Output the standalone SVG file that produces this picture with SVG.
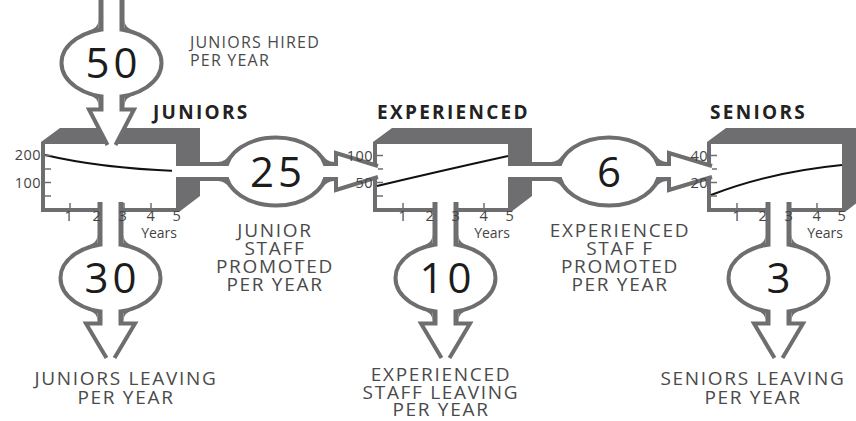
<svg xmlns="http://www.w3.org/2000/svg" width="856" height="421" viewBox="0 0 856 421">
<style>
.g{fill:#6e6e71}
.w{fill:#fff}
.face{fill:#fff}
.curve{fill:none;stroke:#111;stroke-width:2}
.tick{stroke:#6e6e71;stroke-width:1.5}
.ax{font-family:"Open Sans","Liberation Sans",sans-serif;font-size:14.5px;fill:#444;letter-spacing:0.5px}
.yr{font-family:"Open Sans","Liberation Sans",sans-serif;font-size:14px;fill:#444;text-anchor:end}
.title{font-family:"Open Sans","Liberation Sans",sans-serif;font-size:19px;font-weight:bold;fill:#222;letter-spacing:2.3px}
.cap{font-family:"Open Sans","Liberation Sans",sans-serif;font-size:19px;fill:#4a4a4a;letter-spacing:1.7px}
.cap1{font-family:"Open Sans","Liberation Sans",sans-serif;font-size:16px;fill:#4a4a4a;letter-spacing:1.2px}
.num{font-family:"Open Sans","Liberation Sans",sans-serif;font-size:42px;fill:#1c1c1c;text-anchor:middle;letter-spacing:4px}
.ring{fill:#fff;stroke:#6e6e71;stroke-width:4}
.arr{fill:#fff;stroke:#6e6e71;stroke-width:4;stroke-linejoin:miter}
</style>
<defs>
  <g id="fv">
    <path class="g" d="M-13,-43 Q-13,-34 -25,-31.6 L-13,-31.5 Z"/>
    <path class="g" d="M13,-43 Q13,-34 25,-31.6 L13,-31.5 Z"/>
  </g>
  <g id="fh">
    <path class="g" d="M-58,-9.5 Q-51,-9.5 -47,-16 L-48,-9.5 Z"/>
    <path class="g" d="M-58,9.5 Q-51,9.5 -47,16 L-48,9.5 Z"/>
  </g>
</defs>

<!-- stocks -->
<g id="stock-juniors">
  <polygon class="g" points="41,142 60,128 200,128 200,196 179,212 41,212"/>
  <rect class="face" x="45" y="144" width="131" height="64"/>
  <path class="curve" d="M45,155 Q100,168 176,171"/>
  <g class="tick">
    <line x1="45" y1="155.5" x2="51" y2="155.5"/><line x1="45" y1="169" x2="51" y2="169"/>
    <line x1="45" y1="182.5" x2="51" y2="182.5"/><line x1="45" y1="196" x2="51" y2="196"/>
    <line x1="70" y1="208" x2="70" y2="203"/><line x1="124" y1="208" x2="124" y2="203"/><line x1="151" y1="208" x2="151" y2="203"/>
  </g>
  <text class="title" x="153" y="119">JUNIORS</text>
</g>
<g id="stock-experienced">
  <polygon class="g" points="373,142 392,128 532,128 532,196 511,212 373,212"/>
  <rect class="face" x="377" y="144" width="131" height="64"/>
  <path class="curve" d="M377,186 Q440,171 508,156"/>
  <g class="tick">
    <line x1="377" y1="155.5" x2="383" y2="155.5"/><line x1="377" y1="169" x2="383" y2="169"/>
    <line x1="377" y1="182.5" x2="383" y2="182.5"/><line x1="377" y1="196" x2="383" y2="196"/>
    <line x1="403" y1="208" x2="403" y2="203"/><line x1="457" y1="208" x2="457" y2="203"/><line x1="484" y1="208" x2="484" y2="203"/>
  </g>
  <text class="title" x="377" y="119">EXPERIENCED</text>
</g>
<g id="stock-seniors">
  <polygon class="g" points="707,142 726,128 866,128 866,196 845,212 707,212"/>
  <rect class="face" x="711" y="144" width="131" height="64"/>
  <path class="curve" d="M711,195 Q770,172 842,165"/>
  <g class="tick">
    <line x1="711" y1="155.5" x2="717" y2="155.5"/><line x1="711" y1="169" x2="717" y2="169"/>
    <line x1="711" y1="182.5" x2="717" y2="182.5"/><line x1="711" y1="196" x2="717" y2="196"/>
    <line x1="737" y1="208" x2="737" y2="203"/><line x1="790" y1="208" x2="790" y2="203"/><line x1="817" y1="208" x2="817" y2="203"/>
  </g>
  <text class="title" x="710" y="119">SENIORS</text>
</g>

<!-- valves -->
<g id="valve-hired">
  <ellipse class="ring" cx="111.5" cy="63" rx="50" ry="34"/>
  <text class="num" x="113.5" y="78">50</text>
  <text class="cap1" x="190" y="48">JUNIORS HIRED</text>
  <text class="cap1" x="190" y="66">PER YEAR</text>
</g>
<g id="valve-junior-promoted">
  <ellipse class="ring" cx="276" cy="171.5" rx="50" ry="34"/>
  <text class="num" x="278" y="186.5">25</text>
  <g class="cap" text-anchor="middle">
    <text x="275" y="237">JUNIOR</text>
    <text x="275" y="255">STAFF</text>
    <text x="275" y="273">PROMOTED</text>
    <text x="275" y="291">PER YEAR</text>
  </g>
</g>
<g id="valve-experienced-promoted">
  <ellipse class="ring" cx="609" cy="171.5" rx="50" ry="34"/>
  <text class="num" x="611" y="186.5">6</text>
  <g class="cap" text-anchor="middle">
    <text x="620" y="237">EXPERIENCED</text>
    <text x="620" y="255">STAF F</text>
    <text x="620" y="273">PROMOTED</text>
    <text x="620" y="291">PER YEAR</text>
  </g>
</g>
<g id="valve-juniors-leaving">
  <ellipse class="ring" cx="110.5" cy="278" rx="50" ry="34"/>
  <text class="num" x="112.5" y="293">30</text>
  <g class="cap" text-anchor="middle">
    <text x="126" y="385">JUNIORS LEAVING</text>
    <text x="126" y="404">PER YEAR</text>
  </g>
</g>
<g id="valve-experienced-leaving">
  <ellipse class="ring" cx="445.5" cy="278" rx="50" ry="34"/>
  <text class="num" x="447.5" y="293">10</text>
  <g class="cap" text-anchor="middle">
    <text x="441" y="381">EXPERIENCED</text>
    <text x="441" y="398.5">STAFF LEAVING</text>
    <text x="441" y="416">PER YEAR</text>
  </g>
</g>
<g id="valve-seniors-leaving">
  <ellipse class="ring" cx="778.5" cy="278" rx="50" ry="34"/>
  <text class="num" x="780.5" y="293">3</text>
  <g class="cap" text-anchor="middle">
    <text x="753" y="385">SENIORS LEAVING</text>
    <text x="753" y="404">PER YEAR</text>
  </g>
</g>

<!-- connectors (pipes and arrowheads) -->
<g id="connectors">
  <!-- hired -> juniors -->
  <rect class="g" x="98.5" y="-2" width="26" height="33"/>
  <rect class="g" x="98.5" y="95" width="26" height="15"/>
  <use href="#fv" transform="translate(111.5,63)"/>
  <use href="#fv" transform="translate(111.5,63) scale(1,-1)"/>
  <path class="arr" d="M107.5,145 L89,109.5 L134,109.5 L115.5,145"/>
  <rect class="w" x="103.5" y="-2" width="16" height="38"/>
  <rect class="w" x="103.5" y="90" width="16" height="22"/>

  <!-- juniors -> promoted -> experienced -->
  <rect class="g" x="195" y="162" width="32" height="19"/>
  <rect class="g" x="325" y="162" width="12" height="19"/>
  <use href="#fh" transform="translate(276,171.5)"/>
  <use href="#fh" transform="translate(276,171.5) scale(-1,1)"/>
  <path class="arr" d="M378,166 L336,153 L336,190 L378,177" stroke-width="3.5"/>
  <rect class="w" x="172" y="166" width="60" height="11"/>
  <rect class="w" x="320" y="166" width="20" height="11"/>

  <!-- experienced -> promoted -> seniors -->
  <rect class="g" x="527" y="162" width="34" height="19"/>
  <rect class="g" x="658" y="162" width="12" height="19"/>
  <use href="#fh" transform="translate(609,171.5)"/>
  <use href="#fh" transform="translate(609,171.5) scale(-1,1)"/>
  <path class="arr" d="M712,166 L669,153 L669,190 L712,177" stroke-width="3.5"/>
  <rect class="w" x="504" y="166" width="62" height="11"/>
  <rect class="w" x="653" y="166" width="20" height="11"/>

  <!-- juniors leaving -->
  <rect class="g" x="97.5" y="202" width="26" height="44"/>
  <rect class="g" x="97.5" y="310" width="26" height="15"/>
  <use href="#fv" transform="translate(110.5,278)"/>
  <use href="#fv" transform="translate(110.5,278) scale(1,-1)"/>
  <path class="arr" d="M106.5,358 L86,323.5 L135,323.5 L114.5,358"/>
  <rect class="w" x="102.5" y="196" width="16" height="56"/>
  <rect class="w" x="102.5" y="305" width="16" height="22"/>

  <!-- experienced leaving -->
  <rect class="g" x="432.5" y="202" width="26" height="44"/>
  <rect class="g" x="432.5" y="310" width="26" height="15"/>
  <use href="#fv" transform="translate(445.5,278)"/>
  <use href="#fv" transform="translate(445.5,278) scale(1,-1)"/>
  <path class="arr" d="M441.5,358 L421,323.5 L470,323.5 L449.5,358"/>
  <rect class="w" x="437.5" y="196" width="16" height="56"/>
  <rect class="w" x="437.5" y="305" width="16" height="22"/>

  <!-- seniors leaving -->
  <rect class="g" x="765.5" y="202" width="26" height="44"/>
  <rect class="g" x="765.5" y="310" width="26" height="15"/>
  <use href="#fv" transform="translate(778.5,278)"/>
  <use href="#fv" transform="translate(778.5,278) scale(1,-1)"/>
  <path class="arr" d="M774.5,358 L754,323.5 L803,323.5 L782.5,358"/>
  <rect class="w" x="770.5" y="196" width="16" height="56"/>
  <rect class="w" x="770.5" y="305" width="16" height="22"/>
</g>

<!-- axis labels -->
<g id="axis-juniors">
  <text class="ax" x="41" y="160" text-anchor="end">200</text>
  <text class="ax" x="41" y="188" text-anchor="end">100</text>
  <g class="ax" text-anchor="middle">
    <text x="69" y="221">1</text><text x="97" y="221">2</text><text x="123" y="221">3</text><text x="151" y="221">4</text><text x="177" y="221">5</text>
  </g>
  <text class="yr" x="177" y="238">Years</text>
</g>
<g id="axis-experienced">
  <text class="ax" x="373" y="161" text-anchor="end">100</text>
  <text class="ax" x="373" y="188" text-anchor="end">50</text>
  <g class="ax" text-anchor="middle">
    <text x="403" y="221">1</text><text x="430" y="221">2</text><text x="456" y="221">3</text><text x="484" y="221">4</text><text x="510" y="221">5</text>
  </g>
  <text class="yr" x="510" y="238">Years</text>
</g>
<g id="axis-seniors">
  <text class="ax" x="708" y="161" text-anchor="end">40</text>
  <text class="ax" x="708" y="188" text-anchor="end">20</text>
  <g class="ax" text-anchor="middle">
    <text x="737" y="221">1</text><text x="763" y="221">2</text><text x="789" y="221">3</text><text x="817" y="221">4</text><text x="842" y="221">5</text>
  </g>
  <text class="yr" x="843" y="238">Years</text>
</g>
</svg>
